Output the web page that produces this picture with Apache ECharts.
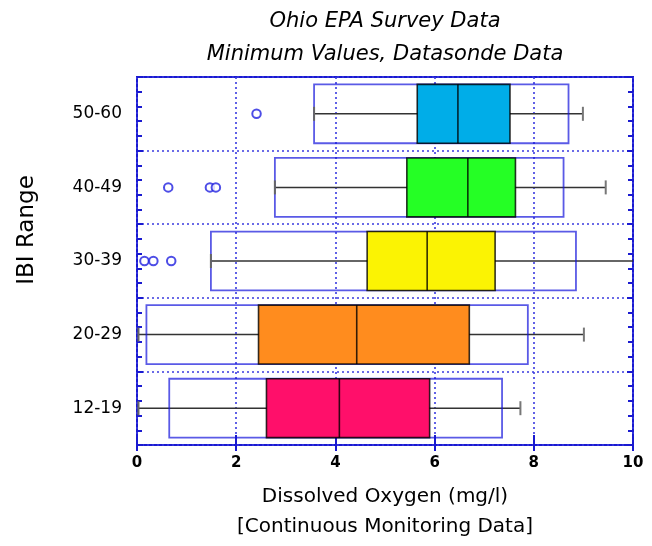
<!DOCTYPE html>
<html><head><meta charset="utf-8">
<script src="https://cdn.jsdelivr.net/npm/echarts@6/dist/echarts.min.js"></script>
<style>html,body{margin:0;padding:0;background:#fff}#c{width:652px;height:546px}</style>
</head><body><div id="c"></div>
<script>
const categories = ['12-19','20-29','30-39','40-49','50-60'];
const outerLow   = [0.65, 0.19, 1.49, 2.78, 3.57];
const outerHigh  = [7.36, 7.88, 8.85, 8.60, 8.70];
const whiskerLow = [0.03, 0.03, 1.49, 2.78, 3.57];
const whiskerHigh= [7.73, 9.01, 10.4, 9.45, 8.99];
const q1         = [2.61, 2.45, 4.64, 5.44, 5.65];
const median     = [4.08, 4.43, 5.85, 6.67, 6.47];
const q3         = [5.90, 6.70, 7.22, 7.63, 7.52];
const outlierCat = ['30-39','30-39','30-39','40-49','40-49','40-49','50-60'];
const outlierVal = [0.15, 0.33, 0.69, 0.63, 1.47, 1.59, 2.41];
const xTicks = [0, 2, 4, 6, 8, 10];
const boxColors = ['#ff0f6a', '#ff8c1e', '#fbf303', '#25ff25', '#00ade8'];

const FONT = '"DejaVu Sans", sans-serif';
const chart = echarts.init(document.getElementById('c'), null, {renderer:'canvas'});

const boxData = categories.map((c, i) => [i, outerLow[i], outerHigh[i], whiskerLow[i], whiskerHigh[i], q1[i], median[i], q3[i]]);

function renderBox(params, api) {
  const i = api.value(0);
  const cs = params.coordSys;
  const yc = api.coord([0, i])[1];
  const band = api.size([0, 1])[1];
  const h = band * 0.80;
  const top = yc - h / 2;
  const X = v => Math.min(api.coord([v, i])[0], cs.x + cs.width);
  const oL = X(api.value(1)), oH = X(api.value(2));
  const wL = X(api.value(3)), wH = X(api.value(4));
  const a = X(api.value(5)), m = X(api.value(6)), b = X(api.value(7));
  const capH = 7;
  const children = [
    {type:'line', shape:{x1:wL, y1:yc, x2:wH, y2:yc}, style:{stroke:'#333', lineWidth:1.5}},
    {type:'rect', shape:{x:oL, y:top, width:oH - oL, height:h}, style:{fill:'none', stroke:'rgba(20,20,220,0.7)', lineWidth:1.8}},
    {type:'rect', shape:{x:a, y:top, width:b - a, height:h}, style:{fill:boxColors[i], stroke:'rgba(0,0,0,0.8)', lineWidth:1.6}},
    {type:'line', shape:{x1:m, y1:top, x2:m, y2:top + h}, style:{stroke:'rgba(0,0,0,0.8)', lineWidth:1.6}}
  ];
  if (api.value(3) >= 0) children.push({type:'line', shape:{x1:wL, y1:yc - capH, x2:wL, y2:yc + capH}, style:{stroke:'#666', lineWidth:2}});
  if (api.value(4) <= 10) children.push({type:'line', shape:{x1:wH, y1:yc - capH, x2:wH, y2:yc + capH}, style:{stroke:'#777', lineWidth:2}});
  return {type:'group', children};
}

const gridLine = {show:true, lineStyle:{color:'#3a3ae0', width:1.6, type:[2,3]}};
const L = 137, R = 633, T = 77, B = 445;

chart.setOption({
  animation:false,
  grid:{left:L, right:652 - R, top:T, bottom:546 - B, show:true, borderColor:'#1a1ad0', borderWidth:2, backgroundColor:'transparent'},
  xAxis:[
    {type:'value', min:0, max:10, interval:2, position:'bottom',
     axisLine:{show:false}, axisTick:{show:true, inside:true, length:10, lineStyle:{color:'#1a1ad0', width:2}},
     axisLabel:{margin:11, color:'#000', fontFamily:FONT, fontSize:15, fontWeight:'bold', formatter: v => xTicks.includes(v) ? String(v) : ''},
     splitLine:gridLine},
    {type:'value', min:0, max:10, interval:2, position:'top',
     axisLine:{show:false}, axisTick:{show:true, inside:true, length:6, lineStyle:{color:'#1a1ad0', width:2}},
     axisLabel:{show:false}, splitLine:{show:false}}
  ],
  yAxis:[
    {type:'category', data:categories, position:'left',
     axisLine:{show:false}, axisTick:{show:false},
     axisLabel:{margin:15, color:'#000', fontFamily:FONT, fontSize:17},
     splitLine:gridLine},
    {type:'value', min:0, max:5, interval:1, position:'left',
     axisLine:{show:false}, axisLabel:{show:false}, splitLine:{show:false},
     axisTick:{show:true, inside:true, length:6, lineStyle:{color:'#1a1ad0', width:2}},
     minorTick:{show:true, splitNumber:5, length:5, lineStyle:{color:'#1a1ad0', width:2}}},
    {type:'value', min:0, max:5, interval:1, position:'right',
     axisLine:{show:false}, axisLabel:{show:false}, splitLine:{show:false},
     axisTick:{show:true, inside:true, length:6, lineStyle:{color:'#1a1ad0', width:2}},
     minorTick:{show:true, splitNumber:5, length:5, lineStyle:{color:'#1a1ad0', width:2}}}
  ],
  series:[
    {type:'custom', xAxisIndex:0, yAxisIndex:0, renderItem:renderBox, data:boxData,
     encode:{x:[1,2,3,4,5,6,7], y:0}, clip:true, z:3},
    {type:'scatter', xAxisIndex:0, yAxisIndex:0, symbol:'emptyCircle', symbolSize:8.5,
     itemStyle:{color:'#2020e0', borderColor:'#2020e0', borderWidth:1.3},
     data: outlierVal.map((v, k) => [v, outlierCat[k]]), z:4}
  ],
  graphic:[
    {type:'text', x:385, y:22, style:{text:'Ohio EPA Survey Data', font:'italic 21px ' + FONT, fill:'#000', align:'center', verticalAlign:'middle'}},
    {type:'text', x:385, y:55, style:{text:'Minimum Values, Datasonde Data', font:'italic 21px ' + FONT, fill:'#000', align:'center', verticalAlign:'middle'}},
    {type:'text', x:385, y:497, style:{text:'Dissolved Oxygen (mg/l)', font:'20px ' + FONT, fill:'#000', align:'center', verticalAlign:'middle'}},
    {type:'text', x:385, y:527, style:{text:'[Continuous Monitoring Data]', font:'20px ' + FONT, fill:'#000', align:'center', verticalAlign:'middle'}},
    {type:'text', x:27, y:230, rotation:Math.PI / 2, style:{text:'IBI Range', font:'23px ' + FONT, fill:'#000', align:'center', verticalAlign:'middle'}}
  ]
});
</script></body></html>
